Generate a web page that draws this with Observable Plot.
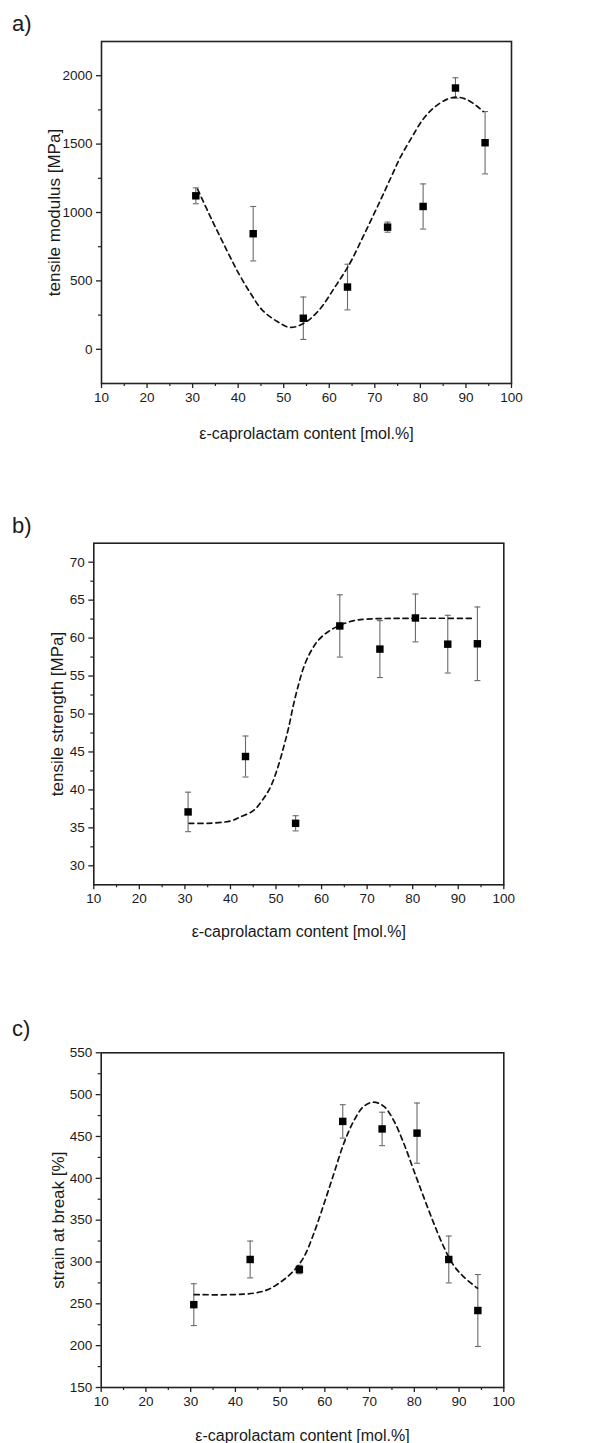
<!DOCTYPE html>
<html>
<head>
<meta charset="utf-8">
<script src="https://cdn.jsdelivr.net/npm/d3@7"></script>
<script src="https://cdn.jsdelivr.net/npm/@observablehq/plot@0.6"></script>
<style>
  html, body { margin: 0; padding: 0; background: #fff; }
  body { position: relative; width: 594px; height: 1443px; overflow: hidden; font-family: "Liberation Sans", Arial, sans-serif; }
  .panel { position: absolute; left: 0; }
  .tag { position: absolute; left: 12px; font-size: 22px; line-height: 22px; color: #1a1a1a; z-index: 5; }
</style>
</head>
<body>
<div id="pa" class="panel" style="top:0px"></div>
<div id="pb" class="panel" style="top:470px"></div>
<div id="pc" class="panel" style="top:960px"></div>
<div class="tag" style="top:13px">a)</div>
<div class="tag" style="top:515px">b)</div>
<div class="tag" style="top:1018px">c)</div>
<script>
// ---- data ----
const content = [30.7, 43.3, 54.3, 64.0, 72.8, 80.6, 87.7, 94.2];

const modulus    = [1122, 845, 227, 455, 893, 1044, 1910, 1510];
const modulusErr = [58, 199, 155, 167, 37, 165, 75, 228];

const strength    = [37.1, 44.4, 35.6, 61.6, 58.55, 62.65, 59.2, 59.25];
const strengthErr = [2.6, 2.7, 1.0, 4.1, 3.75, 3.15, 3.8, 4.85];

const strain    = [249, 303, 291, 468, 459, 454, 303, 242];
const strainErr = [25, 22, 5, 20, 20, 36, 28, 43];

// dashed fit curves, sampled from the figure
const fitAx = [31.1, 34.3, 37.5, 40.1, 42.7, 45.2, 48.5, 51.4, 54.4, 57.7, 61.3, 64.5, 67.8, 71.1, 73.7, 75.6, 78.2, 80.5, 82.9, 85.9, 88.1, 90.3, 92.5, 93.8];
const fitAy = [1170, 941, 724, 555, 410, 290, 205, 160, 190, 284, 458, 627, 850, 1080, 1268, 1404, 1554, 1678, 1764, 1829, 1843, 1824, 1775, 1738];

const fitBx = [30.9, 35, 40, 42, 45.1, 47.3, 48.8, 50.2, 51.7, 52.8, 53.9, 55.0, 56.1, 57.6, 59.4, 61.6, 64.1, 67.1, 70, 77.3, 93.0];
const fitBy = [35.6, 35.6, 35.9, 36.4, 37.3, 38.9, 40.4, 42.6, 45.7, 48.3, 51.4, 54.0, 56.2, 58.2, 59.8, 60.9, 61.7, 62.3, 62.5, 62.6, 62.6];

const fitCx = [30.8, 39.7, 44.1, 47.1, 50.1, 53.1, 55.3, 57.5, 59.8, 62.0, 64.2, 66.5, 68.7, 70.9, 73.2, 75.4, 77.7, 79.9, 82.1, 84.4, 86.6, 88.8, 91.1, 94.1];
const fitCy = [261, 261, 262.7, 266.7, 275.9, 289.8, 305.8, 333.7, 369.5, 405.4, 441.2, 469, 486, 491, 486, 469, 441, 409, 377.5, 345.6, 317.7, 295.8, 281.9, 268.7];

const xMajor = [10, 20, 30, 40, 50, 60, 70, 80, 90, 100];
const xMinor = [15, 25, 35, 45, 55, 65, 75, 85, 95];
const xLabel = "ε-caprolactam content [mol.%]";

// ---- drawing ----
const capSymbol = {
  draw(ctx, size) {
    const h = Math.sqrt(size / Math.PI);
    ctx.moveTo(-h, 0);
    ctx.lineTo(h, 0);
  }
};
const fmt = d => String(d);

function panel(opts) {
  const pts = content.map((x, i) => ({x, y: opts.vals[i], lo: opts.vals[i] - opts.errs[i], hi: opts.vals[i] + opts.errs[i]}));
  const fit = opts.fx.map((x, i) => ({x, y: opts.fy[i]}));
  return Plot.plot({
    width: 594,
    height: opts.height,
    marginTop: opts.mt,
    marginBottom: opts.mb,
    marginLeft: opts.ml,
    marginRight: opts.mr,
    style: {fontFamily: "'Liberation Sans', Arial, sans-serif", fontSize: "13.5px", color: "#1a1a1a", background: "#fff"},
    x: {domain: [10, 100]},
    y: {domain: opts.ydomain},
    marks: [
      Plot.ruleX(pts, {x: "x", y1: "lo", y2: "hi", stroke: "#6a6a6a", strokeWidth: 1.1}),
      Plot.dot(pts, {x: "x", y: "lo", symbol: capSymbol, r: 3, stroke: "#6a6a6a", strokeWidth: 1.1, fill: "none"}),
      Plot.dot(pts, {x: "x", y: "hi", symbol: capSymbol, r: 3, stroke: "#6a6a6a", strokeWidth: 1.1, fill: "none"}),
      Plot.line(fit, {x: "x", y: "y", curve: "catmull-rom", stroke: "#111", strokeWidth: 1.7, strokeDasharray: "5,4"}),
      Plot.dot(pts, {x: "x", y: "y", symbol: "square", r: 4.2, fill: "#000", stroke: "none"}),
      Plot.frame({stroke: "#222", strokeWidth: 1.6}),
      Plot.axisX({ticks: xMajor, tickFormat: fmt, tickSize: 5, tickPadding: 4, fontSize: 13.5, label: null, stroke: "#222", strokeWidth: 1.3, fill: "#1a1a1a"}),
      Plot.axisX({ticks: xMinor, tickSize: 3, tickFormat: () => "", label: null, stroke: "#222", strokeWidth: 1.2}),
      Plot.axisY({ticks: opts.yMajor, tickFormat: fmt, tickSize: 5, tickPadding: 4, fontSize: 13.5, label: null, stroke: "#222", strokeWidth: 1.3, fill: "#1a1a1a"}),
      Plot.axisY({ticks: opts.yMinor, tickSize: 3, tickFormat: () => "", label: null, stroke: "#222", strokeWidth: 1.2}),
      Plot.text([opts.ylabel], {frameAnchor: "left", rotate: -90, dx: opts.ylabelDx, textAnchor: "middle", lineAnchor: "middle", fontSize: 17, fill: "#1a1a1a"}),
      Plot.text([xLabel], {frameAnchor: "bottom", dy: opts.xlabelDy, textAnchor: "middle", lineAnchor: "middle", fontSize: 16, fill: "#1a1a1a"})
    ]
  });
}

document.getElementById("pa").append(panel({
  vals: modulus, errs: modulusErr, fx: fitAx, fy: fitAy,
  height: 470, mt: 41, mb: 87, ml: 101, mr: 83,
  ydomain: [-250, 2250],
  yMajor: [0, 500, 1000, 1500, 2000], yMinor: [250, 750, 1250, 1750],
  ylabel: "tensile modulus [MPa]", ylabelDx: -47, xlabelDy: 50
}));

document.getElementById("pb").append(panel({
  vals: strength, errs: strengthErr, fx: fitBx, fy: fitBy,
  height: 490, mt: 72.7, mb: 75.7, ml: 93.3, mr: 90.7,
  ydomain: [27.5, 72.5],
  yMajor: [30, 35, 40, 45, 50, 55, 60, 65, 70], yMinor: [32.5, 37.5, 42.5, 47.5, 52.5, 57.5, 62.5, 67.5],
  ylabel: "tensile strength [MPa]", ylabelDx: -36, xlabelDy: 47.5
}));

document.getElementById("pc").append(panel({
  vals: strain, errs: strainErr, fx: fitCx, fy: fitCy,
  height: 483, mt: 92.3, mb: 56, ml: 100.7, mr: 90.7,
  ydomain: [150, 550],
  yMajor: [150, 200, 250, 300, 350, 400, 450, 500, 550], yMinor: [175, 225, 275, 325, 375, 425, 475, 525],
  ylabel: "strain at break [%]", ylabelDx: -43, xlabelDy: 48
}));
</script>
</body>
</html>
